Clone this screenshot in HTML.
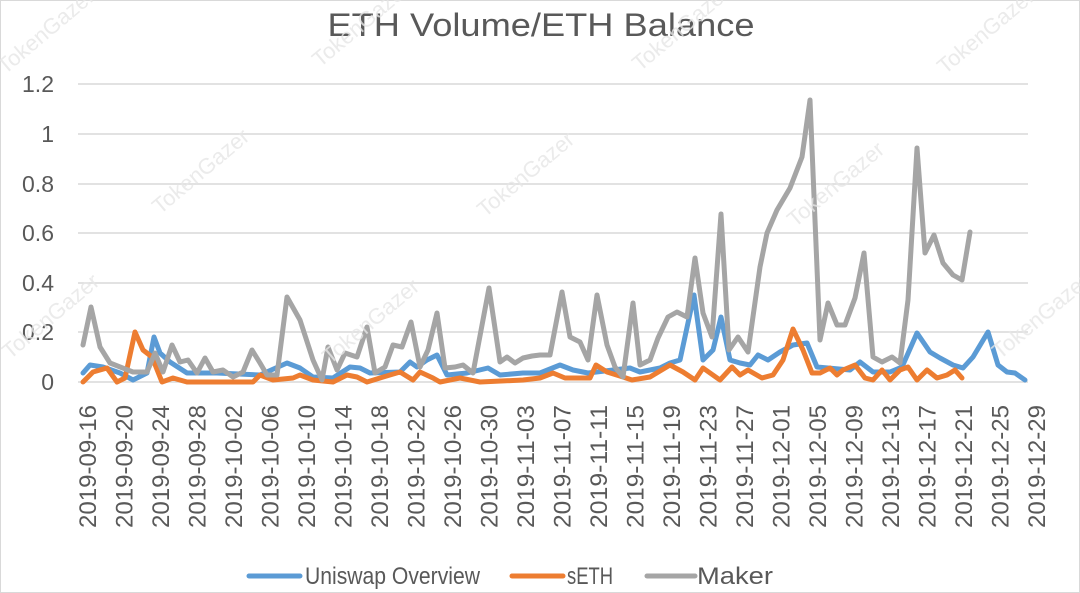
<!DOCTYPE html>
<html><head><meta charset="utf-8"><style>
html,body{margin:0;padding:0;background:#fff}
svg{display:block;font-family:"Liberation Sans",sans-serif}
</style></head><body>
<svg width="1080" height="593" viewBox="0 0 1080 593" xmlns="http://www.w3.org/2000/svg">
<rect x="0.5" y="0.5" width="1079" height="592" fill="#fff" stroke="#d9d9d9"/>
<text x="541" y="36" font-size="32" fill="#595959" text-anchor="middle" textLength="427" lengthAdjust="spacingAndGlyphs">ETH Volume/ETH Balance</text>
<g stroke="#d9d9d9" stroke-width="1.5">
<line x1="78" x2="1028" y1="84" y2="84"/><line x1="78" x2="1028" y1="134" y2="134"/>
<line x1="78" x2="1028" y1="184" y2="184"/><line x1="78" x2="1028" y1="233" y2="233"/>
<line x1="78" x2="1028" y1="283" y2="283"/><line x1="78" x2="1028" y1="332" y2="332"/>
<line x1="78" x2="1028" y1="382" y2="382"/>
</g>
<g font-size="23" fill="#595959" text-anchor="end">
<text x="54" y="92">1.2</text><text x="54" y="142">1</text><text x="54" y="192">0.8</text>
<text x="54" y="241">0.6</text><text x="54" y="291">0.4</text><text x="54" y="340">0.2</text><text x="54" y="390">0</text>
</g>
<g font-size="24" fill="#595959" text-anchor="end" id="xl"></g>
<g fill="none" stroke-width="5" stroke-linejoin="round" stroke-linecap="round">
<polyline stroke="#5b9bd5" points="83,373 90,365 103,367 120,373 133,380 147,373 154,337 160,353 170,362 187,373 217,373 260,375 287,363 300,368 313,377 333,378 350,367 360,368 370,373 400,372 410,362 417,367 427,360 437,355 447,375 467,373 488,368 500,375 523,373 540,373 560,365 573,370 588,373 630,368 640,372 660,368 670,363 680,360 694,295 703,360 713,350 721,317 730,360 740,363 750,365 758,355 768,360 780,352 793,345 807,343 817,367 850,370 860,362 873,372 890,372 902,367 917,333 930,352 940,358 953,365 963,368 973,357 988,332 998,365 1007,372 1015,373 1025,380"/>
<polyline stroke="#ed7d31" points="83,382 93,372 107,368 117,382 125,378 135,332 143,350 152,357 162,382 173,378 187,382 253,382 260,375 273,380 293,378 300,375 313,380 333,382 347,375 357,377 367,382 380,378 400,372 413,380 420,372 433,378 440,382 460,378 480,382 523,380 540,378 553,373 565,378 590,378 596,365 607,372 623,377 632,380 650,377 670,365 683,372 695,380 703,368 720,380 732,367 740,375 748,370 762,378 773,375 783,360 793,329 803,350 812,373 820,373 830,368 837,375 843,370 855,365 865,378 873,380 882,370 890,380 900,370 908,367 917,380 927,370 937,378 947,375 955,370 962,378"/>
<polyline stroke="#a5a5a5" points="83,345 91,307 100,347 110,363 133,372 147,372 155,353 163,372 172,345 180,362 188,360 197,373 205,358 213,372 223,370 233,377 243,372 252,350 260,363 267,375 277,375 287,297 300,320 313,360 322,380 328,347 337,370 345,353 357,357 367,327 375,373 385,367 393,345 402,347 411,322 420,367 428,350 437,313 445,368 455,367 463,365 473,373 489,288 500,362 507,357 515,363 523,358 532,356 540,355 550,355 562,292 570,337 580,342 588,360 597,295 607,345 615,367 623,377 633,303 640,365 650,360 658,338 668,317 677,312 687,317 695,258 703,313 712,337 721,214 729,350 738,337 748,352 760,267 767,233 777,210 790,188 802,157 810,100 820,340 828,303 837,325 845,325 855,298 864,253 873,357 882,362 892,357 900,363 908,300 917,148 925,253 934,235 943,263 953,275 962,280 970,232"/>
</g>
<g stroke-width="5" stroke-linecap="round">
<line x1="249" x2="300" y1="576" y2="576" stroke="#5b9bd5"/>
<line x1="512" x2="563" y1="576" y2="576" stroke="#ed7d31"/>
<line x1="647" x2="695" y1="576" y2="576" stroke="#a5a5a5"/>
</g>
<g font-size="24" fill="#595959">
<text x="305" y="584" textLength="175" lengthAdjust="spacingAndGlyphs">Uniswap Overview</text>
<text x="567" y="584" textLength="46" lengthAdjust="spacingAndGlyphs">sETH</text>
<text x="697" y="584" textLength="76" lengthAdjust="spacingAndGlyphs">Maker</text>
</g>
<g font-size="22" fill="#e6e6e6" opacity="0.8">
<text transform="translate(160,215) rotate(-40)">TokenGazer</text>
<text transform="translate(485,218) rotate(-40)">TokenGazer</text>
<text transform="translate(795,228) rotate(-40)">TokenGazer</text>
<text transform="translate(10,360) rotate(-40)">TokenGazer</text>
<text transform="translate(330,365) rotate(-40)">TokenGazer</text>
<text transform="translate(1000,360) rotate(-40)">TokenGazer</text>
<text transform="translate(320,68) rotate(-40)">TokenGazer</text>
<text transform="translate(640,72) rotate(-40)">TokenGazer</text>
<text transform="translate(945,75) rotate(-40)">TokenGazer</text>
<text transform="translate(5,75) rotate(-40)">TokenGazer</text>
</g>
<script>
(function(){var g=document.getElementById('xl');var ns='http://www.w3.org/2000/svg';
var d=new Date(Date.UTC(2019,8,16));
for(var k=0;k<27;k++){var t=new Date(d.getTime()+k*4*86400000);
var s=t.getUTCFullYear()+'-'+('0'+(t.getUTCMonth()+1)).slice(-2)+'-'+('0'+t.getUTCDate()).slice(-2);
var x=88+k*36.5;var e=document.createElementNS(ns,'text');
e.setAttribute('transform','translate('+(x+8)+',405) rotate(-90)');e.setAttribute('textLength','123');
e.setAttribute('lengthAdjust','spacingAndGlyphs');
e.textContent=s;g.appendChild(e);}})();
</script>
</svg>
</body></html>
